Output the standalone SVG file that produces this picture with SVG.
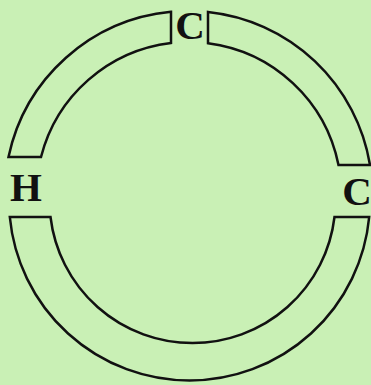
<svg xmlns="http://www.w3.org/2000/svg" width="371" height="385" viewBox="0 0 371 385">
<style>
.seg{fill:none;stroke:#111;stroke-width:2.5;stroke-linejoin:miter}
.lbl{font-family:"Liberation Serif","Times New Roman",serif;font-weight:bold;font-size:41px;fill:#111;text-anchor:middle}
</style>
<rect width="371" height="385" fill="#c9f0b5"/>
<g id="ring">
<path id="seg-top-left" class="seg" d="M171,11.8 A184,184 0 0 0 8.5,157 L41,157 A153,153 0 0 1 171,43 Z"/>
<path id="seg-top-right" class="seg" d="M208,12 A184,184 0 0 1 370,165 L338.5,165 A153,153 0 0 0 208,43.2 Z"/>
<path id="seg-bottom" class="seg" d="M9.8,217 A180.5,180.5 0 0 0 369.2,217 L334.5,217 A143,143 0 0 1 50.5,217 Z"/>
</g>
<g id="label-c-top"><text class="lbl" x="190" y="39">C</text></g>
<g id="label-h"><text class="lbl" x="26" y="201">H</text></g>
<g id="label-c-right"><text class="lbl" x="357" y="205">C</text></g>
</svg>
